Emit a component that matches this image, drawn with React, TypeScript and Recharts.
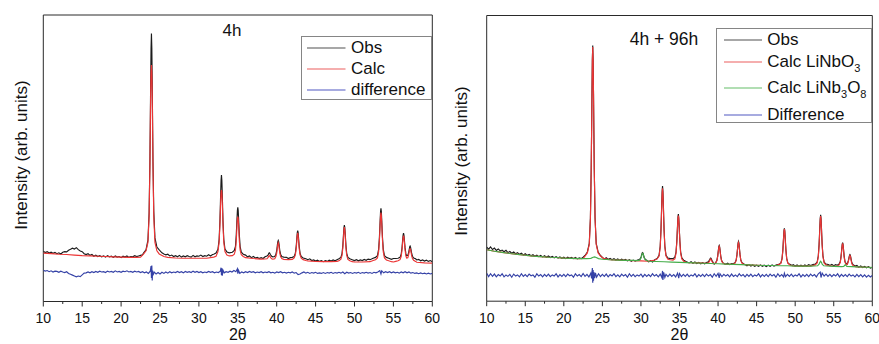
import React from 'react';
import { LineChart, Line, XAxis, YAxis, ReferenceArea } from 'recharts';

const xTicks = [10, 12.5, 15, 17.5, 20, 22.5, 25, 27.5, 30, 32.5, 35, 37.5, 40, 42.5, 45, 47.5, 50, 52.5, 55, 57.5, 60];

const titleLeft = '4h';
const titleRight = '4h + 96h';
const yLabel = 'Intensity (arb. units)';
const xLabel = '2\u03b8';

// ---- Panel 1 : 4h ----
const obs4h = [[10,17.5],[10.25,17.1],[10.5,17.4],[10.75,16.9],[11,17.2],[11.25,16.8],[11.5,17.1],[11.75,16.7],[12,17.0],[12.25,16.6],[12.5,17.2],[12.75,17.4],[13,17.3],[13.25,17.9],[13.5,18.2],[13.75,18.6],[14,18.3],[14.25,18.8],[14.5,18.1],[14.75,17.6],[15,17.4],[15.25,16.7],[15.5,16.4],[15.75,16.7],[16,16.1],[16.25,16.4],[16.5,15.8],[16.75,16.2],[17,15.7],[17.25,16.0],[17.5,15.6],[17.75,15.9],[18,15.5],[18.25,16.0],[18.5,15.6],[18.75,15.8],[19,15.4],[19.25,15.9],[19.5,15.5],[19.75,15.7],[20,15.3],[20.25,15.8],[20.5,15.5],[20.75,15.9],[21,15.4],[21.25,15.7],[21.5,15.6],[21.75,16.0],[22,15.7],[22.25,15.9],[22.5,16.1],[22.75,16.3],[22.9,17.0],[23.2,18.0],[23.45,21.4],[23.6,30.9],[23.7,48.5],[23.75,61.6],[23.8,76.1],[23.85,88.5],[23.9,93.5],[23.95,88.5],[24,76.1],[24.05,61.6],[24.1,48.5],[24.2,31.5],[24.35,22.2],[24.6,19.0],[24.9,18.0],[25.25,17.0],[25.5,16.6],[25.75,16.3],[26,16.5],[26.25,15.9],[26.5,16.2],[26.75,15.7],[27,16.0],[27.25,15.6],[27.5,16.1],[27.75,15.5],[28,15.9],[28.25,15.6],[28.5,16.0],[28.75,15.7],[29,15.5],[29.25,16.1],[29.5,15.6],[29.75,15.9],[30,15.8],[30.25,16.2],[30.5,15.7],[30.75,16.0],[31,15.8],[31.25,16.3],[31.5,15.9],[31.75,16.4],[31.9,16.5],[32.2,16.9],[32.45,18.2],[32.6,21.6],[32.7,27.9],[32.75,32.6],[32.8,37.9],[32.85,42.3],[32.9,44.1],[32.95,42.3],[33,37.9],[33.05,32.6],[33.1,27.9],[33.2,21.6],[33.35,18.3],[33.6,17.3],[33.9,17.0],[34.3,17.2],[34.55,17.8],[34.7,19.2],[34.8,23.1],[34.85,26.0],[34.9,29.1],[34.95,31.8],[35,32.9],[35.05,31.8],[35.1,29.1],[35.15,26.0],[35.2,23.1],[35.3,19.2],[35.45,17.2],[35.7,16.5],[36,16.2],[36.25,15.6],[36.5,15.9],[36.75,15.3],[37,15.7],[37.25,15.2],[37.5,15.4],[37.75,15.0],[38,15.3],[38.25,15.0],[38.5,15.6],[38.75,15.9],[38.9,16.3],[39,16.9],[39.05,17.0],[39.1,16.9],[39.2,16.3],[39.35,15.8],[39.5,15.6],[39.75,15.7],[39.9,16.5],[40,17.8],[40.05,18.8],[40.1,20.0],[40.15,20.9],[40.2,21.3],[40.25,20.9],[40.3,20.0],[40.35,18.8],[40.4,17.8],[40.5,16.5],[40.65,15.7],[40.9,15.5],[41.25,15.4],[41.5,15.0],[41.75,15.3],[42,15.4],[42.25,15.7],[42.4,16.9],[42.5,19.1],[42.55,20.7],[42.6,22.5],[42.65,24.1],[42.7,24.7],[42.75,24.1],[42.8,22.5],[42.85,20.7],[42.9,19.1],[43,16.9],[43.15,15.7],[43.4,15.2],[43.75,14.9],[44,14.6],[44.25,14.9],[44.5,14.3],[44.75,14.5],[45,14.1],[45.25,14.4],[45.5,14.0],[45.75,14.3],[46,13.9],[46.25,14.3],[46.5,14.0],[46.75,14.4],[47,14.1],[47.25,14.5],[47.5,14.2],[47.75,14.6],[48,14.9],[48.25,15.4],[48.4,16.8],[48.5,19.6],[48.55,21.7],[48.6,24.0],[48.65,25.9],[48.7,26.7],[48.75,25.9],[48.8,24.0],[48.85,21.7],[48.9,19.6],[49,16.8],[49.15,15.4],[49.4,14.9],[49.7,14.6],[50,14.3],[50.25,14.6],[50.5,14.2],[50.75,14.5],[51,14.3],[51.25,14.7],[51.5,14.4],[51.75,14.8],[52,14.6],[52.25,14.9],[52.4,15.1],[52.7,15.4],[52.95,16.0],[53.1,18.2],[53.2,22.2],[53.25,25.2],[53.3,28.5],[53.35,31.4],[53.4,32.5],[53.45,31.4],[53.5,28.5],[53.55,25.2],[53.6,22.2],[53.7,18.2],[53.85,16.0],[54.1,15.4],[54.4,15.1],[54.75,14.7],[55,15.0],[55.3,15.0],[55.6,15.1],[55.85,15.4],[56,16.5],[56.1,18.6],[56.15,20.1],[56.2,21.8],[56.25,23.2],[56.3,23.9],[56.35,23.3],[56.4,21.9],[56.45,20.2],[56.5,18.8],[56.6,16.7],[56.7,16.0],[56.85,16.1],[56.95,17.0],[57,17.7],[57.05,18.4],[57.1,19.1],[57.15,19.35],[57.2,19.0],[57.25,18.3],[57.3,17.5],[57.35,16.75],[57.45,15.8],[57.6,15.2],[57.85,14.9],[58,14.5],[58.25,14.7],[58.5,14.2],[58.75,14.5],[59,14.1],[59.25,14.4],[59.5,14.0],[59.75,14.3],[60,13.9]];

const calc4h = [[10,16.9],[11,16.7],[12,16.5],[13,16.4],[14,16.2],[15,16.0],[16,15.9],[17,15.8],[18,15.7],[19,15.6],[20,15.5],[21,15.4],[22,15.4],[22.5,15.5],[22.9,16.6],[23.2,17.7],[23.45,20.6],[23.6,29.8],[23.7,47],[23.75,59.5],[23.8,73],[23.85,80],[23.9,82.5],[23.95,80],[24,73],[24.05,59.5],[24.1,47],[24.2,29.8],[24.35,20.6],[24.6,17.7],[24.9,16.6],[25.5,15.7],[26,15.4],[27,15.2],[28,15.1],[30,15.1],[31,15.1],[31.9,15.5],[32.2,15.8],[32.45,17.4],[32.6,20.7],[32.7,26.6],[32.75,30.8],[32.8,35.2],[32.85,38.0],[32.9,38.9],[32.95,38.0],[33,35.2],[33.05,30.8],[33.1,26.6],[33.2,20.7],[33.35,17.4],[33.6,16.2],[33.9,15.9],[34.3,16.0],[34.55,16.5],[34.7,17.9],[34.8,21.0],[34.85,23.8],[34.9,26.8],[34.95,29.0],[35,29.6],[35.05,29.0],[35.1,26.8],[35.15,23.8],[35.2,21.0],[35.3,17.9],[35.45,16.3],[35.7,15.7],[36,15.3],[37,15.0],[38,14.8],[38.75,14.9],[38.9,15.4],[39,15.9],[39.05,16.0],[39.1,15.9],[39.2,15.4],[39.35,14.9],[39.5,14.8],[39.75,14.9],[39.9,15.7],[40,16.9],[40.05,17.9],[40.1,19.1],[40.15,20.0],[40.2,20.5],[40.25,20.0],[40.3,19.1],[40.35,17.9],[40.4,16.9],[40.5,15.7],[40.65,15.0],[40.9,14.7],[41.5,14.6],[42,14.7],[42.25,15.2],[42.4,16.3],[42.5,18.3],[42.55,19.8],[42.6,21.6],[42.65,23.2],[42.7,24.0],[42.75,23.2],[42.8,21.6],[42.85,19.8],[42.9,18.3],[43,16.3],[43.15,15.1],[43.4,14.6],[43.75,14.3],[44,14.2],[45,13.95],[46,13.9],[47,13.9],[47.75,14.0],[48,14.2],[48.25,14.8],[48.4,16.1],[48.5,18.7],[48.55,20.9],[48.6,23.2],[48.65,25.1],[48.7,26.0],[48.75,25.1],[48.8,23.2],[48.85,20.9],[48.9,18.7],[49,16.1],[49.15,14.7],[49.4,14.2],[49.7,13.9],[50,13.8],[51,13.8],[52,13.9],[52.4,14.3],[52.7,14.6],[52.95,15.2],[53.1,17.3],[53.2,21.2],[53.25,24.2],[53.3,27.3],[53.35,30.0],[53.4,31.0],[53.45,30.0],[53.5,27.3],[53.55,24.2],[53.6,21.2],[53.7,17.3],[53.85,15.2],[54.1,14.5],[54.4,14.2],[54.75,13.9],[55,13.8],[55.3,14.0],[55.6,14.2],[55.85,14.6],[56,15.7],[56.1,17.8],[56.15,19.3],[56.2,21.0],[56.25,22.3],[56.3,23.0],[56.35,22.4],[56.4,21.1],[56.45,19.4],[56.5,18.0],[56.6,15.9],[56.7,15.2],[56.85,15.3],[56.95,16.2],[57,16.9],[57.05,17.6],[57.1,18.2],[57.15,18.4],[57.2,18.1],[57.25,17.5],[57.3,16.7],[57.35,15.9],[57.45,15.0],[57.6,14.4],[57.85,14.0],[58,13.7],[59,13.5],[60,13.4]];

const diff4h = [[10,10.9],[10.25,10.6],[10.5,10.8],[10.75,10.4],[11,10.7],[11.25,10.3],[11.5,10.6],[11.75,10.5],[12,10.2],[12.25,10.6],[12.5,10.3],[12.75,10.1],[13,10.4],[13.25,9.8],[13.5,9.5],[13.75,9.2],[14,8.9],[14.25,8.6],[14.5,8.9],[14.75,8.7],[15,9.3],[15.25,9.9],[15.5,10.0],[15.75,10.3],[16,10.0],[16.25,10.4],[16.5,10.1],[16.75,10.5],[17,10.2],[17.25,10.6],[17.5,10.3],[17.75,10.4],[18,10.1],[18.25,10.6],[18.5,10.3],[18.75,10.5],[19,10.2],[19.25,10.7],[19.5,10.3],[19.75,10.5],[20,10.2],[20.25,10.6],[20.5,10.4],[20.75,10.7],[21,10.3],[21.25,10.5],[21.5,10.2],[21.75,10.6],[22,10.3],[22.25,10.5],[22.5,10.1],[22.75,10.4],[23,10.0],[23.25,10.3],[23.5,9.8],[23.75,10.6],[23.85,12.4],[23.9,8.2],[23.95,12.6],[24,7.3],[24.05,10.8],[24.1,9.1],[24.25,10.3],[24.5,9.6],[24.75,10.1],[25,9.6],[25.25,10.2],[25.5,9.8],[25.75,10.3],[26,9.9],[26.25,10.4],[26.5,10.0],[26.75,10.3],[27,10.1],[27.25,10.5],[27.5,10.1],[27.75,10.4],[28,10.0],[28.25,10.5],[28.5,10.2],[28.75,10.4],[29,10.1],[29.25,10.6],[29.5,10.2],[29.75,10.5],[30,10.1],[30.25,10.4],[30.5,10.0],[30.75,10.3],[31,10.1],[31.25,10.5],[31.5,10.2],[31.75,10.4],[32,10.0],[32.25,10.3],[32.5,10.1],[32.75,10.6],[32.85,11.8],[32.9,9.2],[32.95,11.6],[33,9.0],[33.1,10.9],[33.25,10.0],[33.5,10.4],[33.75,10.2],[34,10.6],[34.25,10.3],[34.5,10.8],[34.75,10.4],[34.95,11.4],[35,9.7],[35.1,10.9],[35.25,9.8],[35.5,10.3],[35.75,10.0],[36,10.4],[36.25,10.1],[36.5,10.5],[36.75,10.2],[37,10.4],[37.25,10.0],[37.5,10.3],[37.75,10.1],[38,10.4],[38.25,10.0],[38.5,10.3],[38.75,10.1],[39,10.4],[39.25,10.0],[39.5,10.2],[39.75,9.9],[40,10.3],[40.25,10.1],[40.5,10.4],[40.75,10.0],[41,10.2],[41.25,9.9],[41.5,10.2],[41.75,10.0],[42,10.3],[42.25,9.9],[42.5,10.1],[42.75,9.4],[43,9.6],[43.25,10.0],[43.5,10.3],[43.75,9.9],[44,10.2],[44.25,9.8],[44.5,10.1],[44.75,9.9],[45,10.2],[45.25,9.8],[45.5,10.0],[45.75,9.8],[46,10.1],[46.25,9.8],[46.5,10.1],[46.75,9.9],[47,10.2],[47.25,9.8],[47.5,10.1],[47.75,9.9],[48,10.2],[48.25,9.9],[48.5,10.3],[48.75,9.7],[49,10.2],[49.25,9.9],[49.5,10.1],[49.75,9.8],[50,10.1],[50.25,9.9],[50.5,10.2],[50.75,9.8],[51,10.1],[51.25,9.9],[51.5,10.2],[51.75,9.9],[52,10.1],[52.25,9.8],[52.5,10.2],[52.75,10.0],[53,10.3],[53.25,10.8],[53.4,9.6],[53.5,10.7],[53.75,10.0],[54,10.4],[54.25,10.1],[54.5,10.4],[54.75,10.0],[55,10.3],[55.25,10.0],[55.5,10.2],[55.75,9.9],[56,10.3],[56.25,10.0],[56.5,10.4],[56.75,10.0],[57,10.3],[57.25,9.9],[57.5,10.1],[57.75,9.8],[58,10.0],[58.25,9.7],[58.5,10.0],[58.75,9.7],[59,9.9],[59.25,9.6],[59.5,9.9],[59.75,9.6],[60,9.8]];

// ---- Panel 2 : 4h + 96h ----
const obs96h = [[10,18.9],[10.25,18.2],[10.5,19.0],[10.75,18.1],[11,18.6],[11.25,17.8],[11.5,18.3],[11.75,17.6],[12,17.9],[12.25,17.3],[12.5,17.8],[12.75,17.0],[13,17.4],[13.25,16.8],[13.5,17.2],[13.75,16.6],[14,17.0],[14.25,16.4],[14.5,16.8],[14.75,16.2],[15,16.6],[15.25,16.0],[15.5,16.4],[15.75,15.9],[16,16.3],[16.25,15.7],[16.5,16.1],[16.75,15.6],[17,16.0],[17.25,15.5],[17.5,15.9],[17.75,15.4],[18,15.8],[18.25,15.3],[18.5,15.7],[18.75,15.2],[19,15.6],[19.25,15.1],[19.5,15.5],[19.75,15.0],[20,15.4],[20.25,14.9],[20.5,15.4],[20.75,15.0],[21,15.3],[21.25,14.9],[21.5,15.3],[21.75,14.8],[22,15.2],[22.25,14.9],[22.5,15.4],[22.75,16.0],[23.05,17.2],[23.3,20.2],[23.45,29.3],[23.55,46.2],[23.6,58.9],[23.65,72.8],[23.7,84.7],[23.75,89.5],[23.8,84.7],[23.85,72.8],[23.9,58.9],[23.95,46.2],[24.05,29.3],[24.2,20.2],[24.45,17.2],[24.75,16.0],[25,15.3],[25.25,14.8],[25.5,15.2],[25.75,14.6],[26,15.0],[26.25,14.5],[26.5,14.9],[26.75,14.4],[27,14.8],[27.25,14.3],[27.5,14.7],[27.75,14.3],[28,14.6],[28.25,14.1],[28.5,14.5],[28.75,14.0],[29,14.4],[29.25,14.0],[29.5,14.3],[29.75,14.6],[29.92,14.9],[30.02,15.5],[30.07,16.0],[30.12,16.5],[30.17,16.9],[30.22,17.0],[30.27,16.8],[30.32,16.3],[30.37,15.8],[30.42,15.3],[30.52,14.8],[30.67,14.4],[30.75,14.3],[31,13.8],[31.25,14.2],[31.5,13.7],[31.8,14.5],[32.1,14.9],[32.35,16.1],[32.5,19.3],[32.6,25.2],[32.65,29.6],[32.7,34.5],[32.75,38.6],[32.8,40.3],[32.85,38.6],[32.9,34.5],[32.95,29.6],[33,25.2],[33.1,19.3],[33.25,16.1],[33.5,15.1],[33.8,14.9],[34.15,14.9],[34.4,15.4],[34.55,17.2],[34.65,21.0],[34.7,23.8],[34.75,26.8],[34.8,29.4],[34.85,30.5],[34.9,29.4],[34.95,26.8],[35,23.8],[35.05,21.0],[35.15,17.2],[35.3,15.2],[35.55,14.3],[35.85,13.9],[36.25,13.4],[36.5,13.8],[36.75,13.3],[37,13.7],[37.25,13.2],[37.5,13.6],[37.75,13.1],[38,13.5],[38.25,13.1],[38.5,13.5],[38.75,13.8],[38.9,14.5],[39,15.0],[39.05,15.1],[39.1,14.9],[39.2,14.3],[39.35,13.6],[39.5,13.0],[39.7,13.5],[39.85,14.3],[39.95,15.8],[40,16.9],[40.05,18.1],[40.1,19.1],[40.15,19.5],[40.2,19.1],[40.25,18.1],[40.3,16.9],[40.35,15.8],[40.45,14.3],[40.6,13.5],[40.85,13.1],[41,12.9],[41.25,13.3],[41.5,12.8],[41.75,13.2],[41.95,13.1],[42.2,13.5],[42.35,14.4],[42.45,16.3],[42.5,17.6],[42.55,19.1],[42.6,20.4],[42.65,20.9],[42.7,20.4],[42.75,19.1],[42.8,17.6],[42.85,16.3],[42.95,14.4],[43.1,13.5],[43.35,13.0],[43.5,12.8],[43.75,12.4],[44,12.8],[44.25,12.3],[44.5,12.7],[44.75,12.2],[45,12.6],[45.25,12.2],[45.5,12.7],[45.75,12.2],[46,12.6],[46.25,12.1],[46.5,12.6],[46.75,12.2],[47,12.7],[47.25,12.3],[47.6,12.7],[47.9,12.9],[48.15,13.4],[48.3,15.0],[48.4,17.9],[48.45,20.2],[48.5,22.6],[48.55,24.7],[48.6,25.5],[48.65,24.7],[48.7,22.6],[48.75,20.2],[48.8,17.9],[48.9,15.0],[49.05,13.4],[49.3,12.9],[49.6,12.5],[49.75,12.8],[50,12.3],[50.25,12.7],[50.5,12.2],[50.75,12.6],[51,12.2],[51.25,12.7],[51.5,12.3],[51.75,12.8],[52,12.5],[52.3,12.8],[52.6,13.0],[52.85,13.7],[53,15.9],[53.1,19.9],[53.15,22.9],[53.2,26.2],[53.25,29.0],[53.3,30.2],[53.35,29.0],[53.4,26.2],[53.45,22.9],[53.5,19.9],[53.6,15.9],[53.75,13.7],[54,13.0],[54.3,12.8],[54.5,12.5],[54.75,12.9],[55,12.4],[55.25,12.8],[55.45,12.6],[55.7,13.0],[55.85,13.9],[55.95,15.8],[56,17.1],[56.05,18.6],[56.1,19.9],[56.15,20.5],[56.2,20.0],[56.25,18.7],[56.3,17.2],[56.35,15.8],[56.45,14.0],[56.6,13.2],[56.75,13.1],[56.8,13.4],[56.9,14.25],[56.95,14.9],[57,15.55],[57.05,16.1],[57.1,16.3],[57.15,16.1],[57.2,15.5],[57.25,14.7],[57.3,14.0],[57.4,13.1],[57.55,12.7],[57.8,12.3],[58,12.5],[58.25,11.9],[58.5,12.3],[58.75,11.8],[59,12.2],[59.25,11.7],[59.5,12.1],[59.75,11.6],[60,11.9]];

const calcLiNbO3 = [[10,18.0],[11,17.5],[12,17.1],[13,16.7],[14,16.4],[15,16.1],[16,15.8],[17,15.6],[18,15.4],[19,15.3],[20,15.1],[21,15.0],[22,14.9],[22.5,14.95],[22.75,15.8],[23.05,16.9],[23.3,19.9],[23.45,28.9],[23.55,45.8],[23.6,58.4],[23.65,72.3],[23.7,84.2],[23.75,89.0],[23.8,84.2],[23.85,72.3],[23.9,58.4],[23.95,45.8],[24.05,28.9],[24.2,19.9],[24.45,16.9],[24.75,15.8],[25.2,14.9],[26,14.5],[27,14.4],[28,14.3],[29,14.2],[30,14.1],[31,14.0],[31.8,14.4],[32.1,14.8],[32.35,15.8],[32.5,18.9],[32.6,24.7],[32.65,29.0],[32.7,33.8],[32.75,37.8],[32.8,39.5],[32.85,37.8],[32.9,33.8],[32.95,29.0],[33,24.7],[33.1,18.9],[33.25,15.8],[33.5,14.7],[33.8,14.5],[34.15,14.4],[34.4,14.8],[34.55,16.8],[34.65,20.6],[34.7,23.4],[34.75,26.3],[34.8,28.9],[34.85,30.0],[34.9,28.9],[34.95,26.3],[35,23.4],[35.05,20.6],[35.15,16.8],[35.3,14.8],[35.55,14.0],[35.85,13.6],[36.5,13.5],[37.5,13.4],[38.5,13.3],[38.75,13.4],[38.9,14.1],[39,14.7],[39.05,14.8],[39.1,14.6],[39.2,14.0],[39.35,13.4],[39.5,13.1],[39.7,13.4],[39.85,14.2],[39.95,15.6],[40,16.7],[40.05,17.8],[40.1,18.8],[40.15,19.2],[40.2,18.8],[40.25,17.8],[40.3,16.7],[40.35,15.6],[40.45,14.2],[40.6,13.4],[40.85,13.0],[41.5,12.9],[41.95,12.9],[42.2,13.3],[42.35,14.3],[42.45,16.1],[42.5,17.4],[42.55,18.9],[42.6,20.1],[42.65,20.6],[42.7,20.1],[42.75,18.9],[42.8,17.4],[42.85,16.1],[42.95,14.3],[43.1,13.3],[43.35,12.9],[44,12.7],[45,12.6],[46,12.5],[47,12.5],[47.6,12.6],[47.9,12.8],[48.15,13.3],[48.3,14.8],[48.4,17.7],[48.45,19.9],[48.5,22.3],[48.55,24.4],[48.6,25.2],[48.65,24.4],[48.7,22.3],[48.75,19.9],[48.8,17.7],[48.9,14.8],[49.05,13.3],[49.3,12.7],[49.6,12.4],[50,12.3],[52,12.3],[52.3,12.5],[52.6,12.7],[52.85,13.4],[53,15.6],[53.1,19.6],[53.15,22.5],[53.2,25.8],[53.25,28.6],[53.3,29.8],[53.35,28.6],[53.4,25.8],[53.45,22.5],[53.5,19.6],[53.6,15.6],[53.75,13.4],[54,12.7],[54.3,12.5],[55,12.2],[55.45,12.3],[55.7,12.7],[55.85,13.6],[55.95,15.5],[56,16.8],[56.05,18.3],[56.1,19.6],[56.15,20.2],[56.2,19.7],[56.25,18.4],[56.3,16.9],[56.35,15.5],[56.45,13.7],[56.6,12.9],[56.75,12.8],[56.8,13.1],[56.9,13.95],[56.95,14.6],[57,15.25],[57.05,15.8],[57.1,16.0],[57.15,15.8],[57.2,15.2],[57.25,14.4],[57.3,13.7],[57.4,12.8],[57.55,12.4],[57.8,12.1],[58,12.0],[59,11.9],[60,11.8]];

const calcLiNb3O8 = [[10,18.0],[11,17.5],[12,17.1],[13,16.7],[14,16.4],[15,16.1],[16,15.8],[17,15.6],[18,15.4],[19,15.3],[20,15.1],[21,15.0],[22,14.9],[23,14.9],[23.5,15.0],[23.8,15.4],[24,15.5],[24.2,15.3],[24.5,14.9],[25,14.7],[26,14.5],[27,14.4],[28,14.3],[29,14.3],[29.5,14.2],[29.77,14.3],[29.92,14.6],[30.02,15.2],[30.07,15.7],[30.12,16.2],[30.17,16.6],[30.22,16.8],[30.27,16.6],[30.32,16.2],[30.37,15.7],[30.42,15.2],[30.52,14.6],[30.67,14.3],[31,14.0],[32,13.9],[33,13.8],[34,13.7],[35,13.6],[36,13.5],[37,13.4],[38,13.3],[39,13.2],[40,13.1],[41,13.0],[42,12.9],[43,12.8],[44,12.7],[45,12.6],[46,12.5],[47,12.5],[48,12.4],[49,12.4],[50,12.3],[52,12.3],[52.9,12.4],[53.1,13.0],[53.2,13.6],[53.3,14.0],[53.4,13.6],[53.5,13.0],[53.7,12.4],[55,12.2],[56,12.1],[56.3,12.2],[56.5,12.8],[56.7,12.2],[58,12.0],[60,11.8]];

const diff96h = [[10,9.8],[10.25,8.6],[10.5,9.6],[10.75,8.7],[11,9.5],[11.25,8.5],[11.5,9.3],[11.75,8.8],[12,9.6],[12.25,8.5],[12.5,9.2],[12.75,8.7],[13,9.4],[13.25,8.4],[13.5,9.5],[13.75,8.8],[14,9.2],[14.25,8.5],[14.5,9.6],[14.75,8.7],[15,9.3],[15.25,8.6],[15.5,9.5],[15.75,8.9],[16,9.2],[16.25,8.4],[16.5,9.6],[16.75,8.8],[17,9.3],[17.25,8.5],[17.5,9.4],[17.75,8.7],[18,9.5],[18.25,8.6],[18.5,9.2],[18.75,8.8],[19,9.6],[19.25,8.5],[19.5,9.3],[19.75,8.7],[20,9.4],[20.25,8.6],[20.5,9.5],[20.75,8.9],[21,9.2],[21.25,8.4],[21.5,9.6],[21.75,8.8],[22,9.3],[22.25,8.6],[22.5,9.7],[22.75,8.7],[23,9.4],[23.25,8.5],[23.5,9.8],[23.6,8.0],[23.7,11.6],[23.75,6.5],[23.8,10.9],[23.85,7.2],[23.9,10.2],[24,8.1],[24.1,9.9],[24.25,8.4],[24.5,9.6],[24.75,8.6],[25,9.4],[25.25,8.7],[25.5,9.5],[25.75,8.5],[26,9.3],[26.25,8.8],[26.5,9.6],[26.75,8.6],[27,9.2],[27.25,8.5],[27.5,9.5],[27.75,8.8],[28,9.3],[28.25,8.4],[28.5,9.6],[28.75,8.7],[29,9.4],[29.25,8.6],[29.5,9.2],[29.75,8.8],[30,9.5],[30.25,8.5],[30.5,9.4],[30.75,8.7],[31,9.3],[31.25,8.6],[31.5,9.6],[31.75,8.8],[32,9.3],[32.25,8.5],[32.5,9.5],[32.7,8.3],[32.8,10.6],[32.85,7.4],[32.95,10.1],[33.1,8.3],[33.25,9.4],[33.5,8.6],[33.75,9.5],[34,8.7],[34.25,9.3],[34.5,8.5],[34.75,9.8],[34.9,8.1],[35,9.7],[35.25,8.6],[35.5,9.4],[35.75,8.7],[36,9.5],[36.25,8.6],[36.5,9.2],[36.75,8.8],[37,9.6],[37.25,8.5],[37.5,9.3],[37.75,8.7],[38,9.4],[38.25,8.6],[38.5,9.5],[38.75,8.8],[39,9.3],[39.25,8.4],[39.5,9.6],[39.75,8.7],[40,9.7],[40.15,8.2],[40.25,9.6],[40.5,8.6],[40.75,9.4],[41,8.8],[41.25,9.3],[41.5,8.5],[41.75,9.5],[42,8.7],[42.25,9.2],[42.5,8.6],[42.75,9.6],[43,8.8],[43.25,9.3],[43.5,8.5],[43.75,9.4],[44,8.7],[44.25,9.5],[44.5,8.6],[44.75,9.2],[45,8.8],[45.25,9.6],[45.5,8.5],[45.75,9.3],[46,8.7],[46.25,9.4],[46.5,8.6],[46.75,9.5],[47,8.8],[47.25,9.3],[47.5,8.4],[47.75,9.6],[48,8.7],[48.25,9.3],[48.5,8.5],[48.6,9.8],[48.75,8.6],[49,9.4],[49.25,8.7],[49.5,9.5],[49.75,8.6],[50,9.2],[50.25,8.8],[50.5,9.6],[50.75,8.5],[51,9.3],[51.25,8.7],[51.5,9.4],[51.75,8.6],[52,9.5],[52.25,8.8],[52.5,9.3],[52.75,8.5],[53,9.6],[53.25,10.2],[53.35,8.3],[53.5,9.8],[53.75,8.8],[54,9.5],[54.25,8.7],[54.5,9.4],[54.75,8.6],[55,9.3],[55.25,8.8],[55.5,9.6],[55.75,8.5],[56,9.4],[56.25,8.7],[56.5,9.3],[56.75,8.6],[57,9.5],[57.25,8.8],[57.5,9.2],[57.75,8.5],[58,9.4],[58.25,8.6],[58.5,9.3],[58.75,8.5],[59,9.2],[59.25,8.4],[59.5,9.1],[59.75,8.5],[60,9.0]];

const FONT = '"Liberation Sans", Arial, Helvetica, sans-serif';
const AXIS = '#2a2a2a';

type Series = { name: string; data: number[][]; color: string };

const toPts = (a: number[][]) => a.map(([x, y]) => ({ x, y }));

const renderTick = (props: any) => {
  const { x, y, payload } = props;
  const v = payload.value;
  const major = Math.abs(v % 5) < 1e-6;
  return (
    <g>
      <line x1={x} x2={x} y1={y} y2={y + (major ? 5 : 2.5)} stroke={AXIS} strokeWidth={1} />
      {major && (
        <text x={x} y={y + 21.8} textAnchor="middle" fontSize={14} fill="#111" fontFamily={FONT}>
          {v}
        </text>
      )}
    </g>
  );
};

function Panel({ series, margin, width }: { series: Series[]; margin: any; width: number }) {
  return (
    <LineChart width={width} height={344} margin={margin}>
      <XAxis
        type="number"
        dataKey="x"
        domain={[10, 60]}
        ticks={xTicks}
        interval={0}
        allowDataOverflow
        axisLine={false}
        tickLine={false}
        tickSize={0}
        tickMargin={0}
        height={30}
        tick={renderTick}
      />
      <YAxis type="number" dataKey="y" domain={[0, 100]} hide allowDataOverflow />
      <ReferenceArea x1={10} x2={60} y1={0} y2={100} fill="none" fillOpacity={0} stroke={AXIS} strokeWidth={1} ifOverflow="visible" />
      {series.map((s) => (
        <Line
          key={s.name}
          data={toPts(s.data)}
          dataKey="y"
          type="linear"
          stroke={s.color}
          strokeWidth={1.15}
          dot={false}
          activeDot={false}
          isAnimationActive={false}
        />
      ))}
    </LineChart>
  );
}

const abs = (l: number, t: number): React.CSSProperties => ({ position: 'absolute', left: l, top: t });

function Centered({ x, y, size, children, rotate }: any) {
  return (
    <div
      style={{
        position: 'absolute',
        left: x,
        top: y,
        transform: `translate(-50%, -50%)${rotate ? ' rotate(-90deg)' : ''}`,
        whiteSpace: 'nowrap',
        fontFamily: FONT,
        fontSize: size,
        color: '#111',
        lineHeight: 1,
      }}
    >
      {children}
    </div>
  );
}

function LegendRow({ x1, x2, tx, y, color, children }: any) {
  return (
    <>
      <svg style={{ ...abs(x1, y - 2), overflow: 'visible' }} width={x2 - x1} height={4}>
        <line x1={0} x2={x2 - x1} y1={2} y2={2} stroke={color} strokeWidth={1.4} />
      </svg>
      <div style={{ ...abs(tx, y - 11), height: 22, lineHeight: '22px', fontFamily: FONT, fontSize: 17, color: '#111', whiteSpace: 'nowrap' }}>
        {children}
      </div>
    </>
  );
}

const Sub = ({ children }: any) => (
  <span style={{ fontSize: 11, position: 'relative', top: 5 }}>{children}</span>
);

const leftSeries: Series[] = [
  { name: 'Obs', data: obs4h, color: '#1c1c1c' },
  { name: 'Calc', data: calc4h, color: '#ec3434' },
  { name: 'difference', data: diff4h, color: '#3441a6' },
];

const rightSeries: Series[] = [
  { name: 'Obs', data: obs96h, color: '#1c1c1c' },
  { name: 'Calc LiNbO3', data: calcLiNbO3, color: '#ec3434' },
  { name: 'Calc LiNb3O8', data: calcLiNb3O8, color: '#45ad4a' },
  { name: 'Difference', data: diff96h, color: '#3441a6' },
];

export default function App() {
  return (
    <div style={{ position: 'absolute', left: 0, top: 0, width: 879, height: 344, background: '#fff', overflow: 'hidden' }}>
      <div style={abs(0, 0)}>
        <Panel width={440} series={leftSeries} margin={{ top: 15, right: 7.7, bottom: 12.5, left: 43.3 }} />
      </div>
      <div style={abs(440, 0)}>
        <Panel width={439} series={rightSeries} margin={{ top: 15.5, right: 6.7, bottom: 12.8, left: 46.7 }} />
      </div>

      <Centered x={20.5} y={155} size={17} rotate>{yLabel}</Centered>
      <Centered x={460.5} y={161} size={17} rotate>{yLabel}</Centered>
      <Centered x={237.8} y={335} size={16}>{xLabel}</Centered>
      <Centered x={679.5} y={335} size={16}>{xLabel}</Centered>
      <Centered x={232} y={30} size={17}>{titleLeft}</Centered>
      <Centered x={664} y={40} size={17.5}>{titleRight}</Centered>

      {/* Legend left */}
      <div style={{ ...abs(301, 35.5), width: 131.3, height: 64.5, border: '1px solid #858585', boxSizing: 'border-box', background: '#fff' }} />
      <LegendRow x1={307} x2={345.5} tx={351} y={48.3} color="#8a8a8a">Obs</LegendRow>
      <LegendRow x1={307} x2={345.5} tx={351} y={69} color="#f29393">Calc</LegendRow>
      <LegendRow x1={307} x2={345.5} tx={351} y={90} color="#8a8fd6">difference</LegendRow>

      {/* Legend right */}
      <div style={{ ...abs(716, 28.3), width: 156.3, height: 95, border: '1px solid #858585', boxSizing: 'border-box', background: '#fff' }} />
      <LegendRow x1={724} x2={762} tx={767.3} y={40} color="#8a8a8a">Obs</LegendRow>
      <LegendRow x1={724} x2={762} tx={767.3} y={61.5} color="#f29393">Calc LiNbO<Sub>3</Sub></LegendRow>
      <LegendRow x1={724} x2={762} tx={767.3} y={88} color="#97d39a">Calc LiNb<Sub>3</Sub>O<Sub>8</Sub></LegendRow>
      <LegendRow x1={724} x2={762} tx={767.3} y={114.5} color="#8a8fd6">Difference</LegendRow>
    </div>
  );
}
